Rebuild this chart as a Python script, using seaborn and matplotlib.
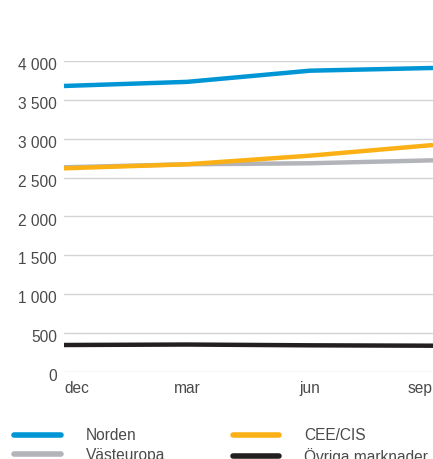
import matplotlib
matplotlib.use("Agg")
import matplotlib.pyplot as plt
import matplotlib.transforms as mtransforms
import seaborn as sns
import pandas as pd
from matplotlib.lines import Line2D

months = ["dec", "mar", "jun", "sep"]
norden = [3682, 3735, 3879, 3914]
vasteuropa = [2634, 2673, 2686, 2724]
cee_cis = [2621, 2673, 2784, 2921]
ovriga = [344, 350, 340, 335]

series_names = ["Norden", "Västeuropa", "CEE/CIS", "Övriga marknader"]
colors = {"Norden": "#0096d6", "Västeuropa": "#b2b4b9", "CEE/CIS": "#fbb116", "Övriga marknader": "#231f20"}
yticks = [0, 500, 1000, 1500, 2000, 2500, 3000, 3500, 4000]
ytick_labels = ["0", "500", "1 000", "1 500", "2 000", "2 500", "3 000", "3 500", "4 000"]

rows = []
for name, vals in zip(series_names, [norden, vasteuropa, cee_cis, ovriga]):
    for i, (m, v) in enumerate(zip(months, vals)):
        rows.append({"serie": name, "x": i, "value": v})
df = pd.DataFrame(rows)

sns.set_theme(style="white")
plt.rcParams["font.family"] = ["Liberation Sans", "DejaVu Sans"]
text_color = "#4a4a4a"
fs = 11.2

fig = plt.figure(figsize=(4.33, 4.59), dpi=100)
ax = fig.add_axes([64 / 433, 1 - 371.7 / 459, 1 - 64 / 433, (371.7 - 61.3) / 459])

draw_order = ["Västeuropa", "CEE/CIS", "Norden", "Övriga marknader"]
sns.lineplot(data=df, x="x", y="value", hue="serie", hue_order=draw_order, palette=colors,
             linewidth=3.2, legend=False, ax=ax, clip_on=False, solid_capstyle="butt")

ax.set_xlim(0, 3)
ax.set_ylim(0, 4000)
ax.set_yticks(yticks)
ax.set_yticklabels(ytick_labels)
ax.yaxis.grid(True, color="#d3d3d3", linewidth=1)
ax.xaxis.grid(False)
ax.set_axisbelow(True)
for s in ax.spines.values():
    s.set_visible(False)
ax.tick_params(axis="y", length=0, pad=5, labelsize=fs, labelcolor=text_color)
ax.tick_params(axis="x", length=0, pad=6.5, labelsize=fs, labelcolor=text_color)
ax.set_xticks(range(len(months)))
ax.set_xticklabels(months)
aligns = ["left", "center", "center", "right"]
for lbl, ha in zip(ax.get_xticklabels(), aligns):
    lbl.set_ha(ha)
shift = mtransforms.ScaledTranslation(0, -3 / 100, fig.dpi_scale_trans)
for lbl in ax.get_yticklabels():
    lbl.set_transform(lbl.get_transform() + shift)
ax.set_xlabel("")
ax.set_ylabel("")

handles = [Line2D([0], [0], color=colors[n], linewidth=4, solid_capstyle="round") for n in series_names]
fig.legend(handles, series_names, loc="upper left", bbox_to_anchor=(14 / 433, 1 - 428 / 459),
           ncol=2, frameon=False, fontsize=fs, handlelength=3.0, handletextpad=1.6,
           columnspacing=4.35, labelspacing=0.3, borderpad=0, borderaxespad=0,
           labelcolor=text_color)

fig.savefig("out.png", dpi=100)
